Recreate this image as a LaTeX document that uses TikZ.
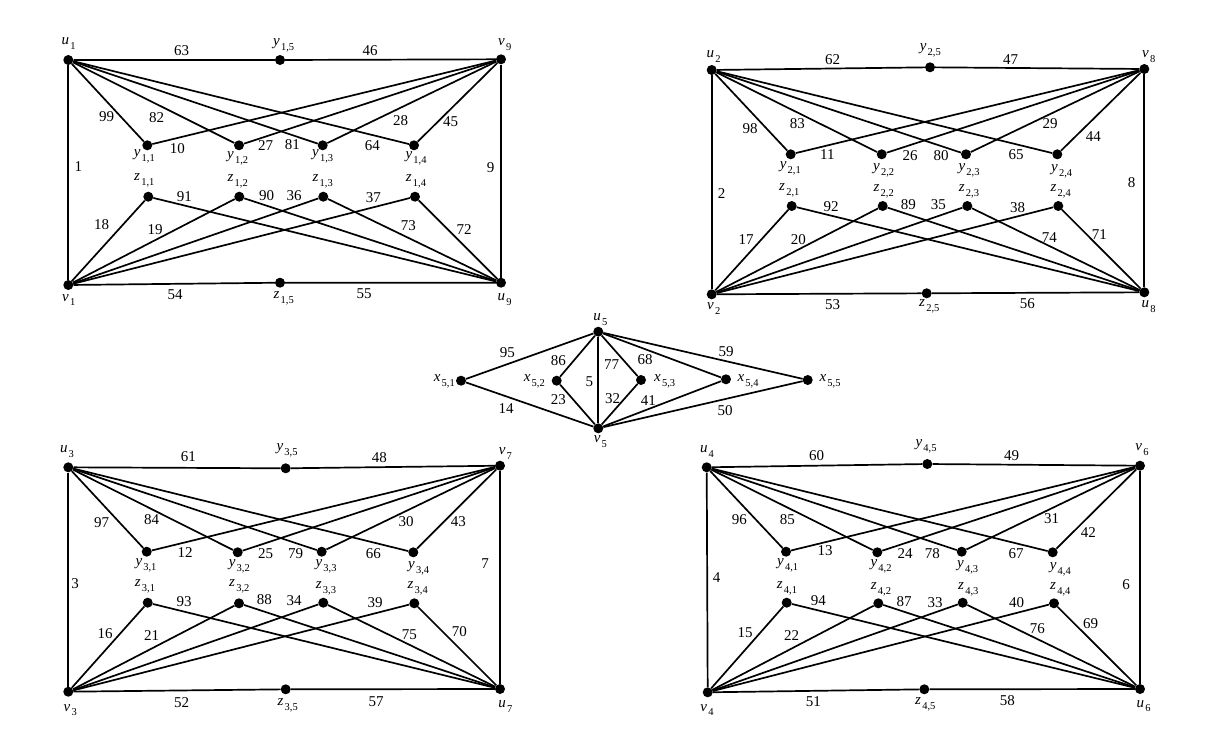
\documentclass[tikz,border=0pt]{standalone}
\usepackage{fontspec}
\setmainfont{Liberation Serif}
\newcommand\vlab[2]{\textit{#1}\kern1.2pt\raisebox{-4.8pt}{\fontsize{10.5}{11}\selectfont #2}}
\newcommand\nm[3]{\node[num] (n#3) at (#1,#2) {#3};}
\newcommand\vt[5]{\node[num] (#3) at (#1,#2) {\vlab{#4}{#5}};}
\newcommand\paneledges[1]{%
  \draw[edge] (TL#1) -- (Y#1-5) -- (TR#1);
  \draw[edge] (TL#1) -- (BL#1);
  \draw[edge] (TR#1) -- (BR#1);
  \draw[edge] (BL#1) -- (Z#1-5) -- (BR#1);
  \foreach \j in {1,...,4} {
    \draw[edge] (TL#1) -- (Y#1-\j);
    \draw[edge] (TR#1) -- (Y#1-\j);
    \draw[edge] (BL#1) -- (Z#1-\j);
    \draw[edge] (BR#1) -- (Z#1-\j);
  }%
}
\begin{document}
\begin{tikzpicture}[x=1pt,y=-1pt,
  dot/.style={circle,fill=black,inner sep=0pt,minimum size=10pt},
  edge/.style={line width=1.7pt,black},
  num/.style={font=\fontsize{15}{18}\selectfont,inner sep=0pt}]
\useasboundingbox (0,0) rectangle (1217,742);
\fill[white] (0,0) rectangle (1217,742);

% ---------- panel 1 ----------
\node[dot] (TL1) at (68.3,60) {};
\node[dot] (TR1) at (501,59.3) {};
\node[dot] (BL1) at (68.3,285) {};
\node[dot] (BR1) at (501,282.7) {};
\node[dot] (Y1-5) at (280,60) {};
\node[dot] (Z1-5) at (280,282.7) {};
\node[dot] (Y1-1) at (147.3,145.3) {};
\node[dot] (Y1-2) at (239,145.3) {};
\node[dot] (Y1-3) at (322.7,145.3) {};
\node[dot] (Y1-4) at (414,145.3) {};
\node[dot] (Z1-1) at (148.3,196.7) {};
\node[dot] (Z1-2) at (239.3,196.7) {};
\node[dot] (Z1-3) at (323.3,196.7) {};
\node[dot] (Z1-4) at (415,196.7) {};
\paneledges{1}
\vt{68.7}{43.3}{a1}{u}{1}
\vt{504.7}{45}{a2}{v}{9}
\vt{283.7}{45}{a3}{y}{1,5}
\vt{68.7}{300}{a4}{v}{1}
\vt{283.7}{298.3}{a5}{z}{1,5}
\vt{504.7}{300}{a6}{u}{9}
\vt{144.3}{156.7}{a7}{y}{1,1}
\vt{237.7}{158.3}{a8}{y}{1,2}
\vt{322.7}{156.7}{a9}{y}{1,3}
\vt{416}{158.3}{a10}{y}{1,4}
\vt{144.3}{180}{a11}{z}{1,1}
\vt{237.7}{181.7}{a12}{z}{1,2}
\vt{322.7}{181.7}{a13}{z}{1,3}
\vt{416}{181.7}{a14}{z}{1,4}
\nm{181.7}{50.7}{63}
\nm{370}{50.7}{46}
\nm{78.3}{166.7}{1}
\nm{490.7}{167.7}{9}
\nm{106.7}{116.7}{99}
\nm{156.7}{117.7}{82}
\nm{400.7}{121}{28}
\nm{450.7}{121.7}{45}
\nm{177.3}{148.7}{10}
\nm{265.7}{145.7}{27}
\nm{292.3}{145}{81}
\nm{372.3}{145.7}{64}
\nm{184.3}{196.7}{91}
\nm{266.7}{196}{90}
\nm{294}{196}{36}
\nm{373.3}{197.3}{37}
\nm{101.7}{225}{18}
\nm{155}{229.3}{19}
\nm{408.3}{226}{73}
\nm{464}{230}{72}
\nm{175}{295}{54}
\nm{364}{294}{55}

% ---------- panel 2 ----------
\node[dot] (TL2) at (711.7,70) {};
\node[dot] (TR2) at (1144.3,69) {};
\node[dot] (BL2) at (711.7,294.3) {};
\node[dot] (BR2) at (1144.3,292.3) {};
\node[dot] (Y2-5) at (930,67.3) {};
\node[dot] (Z2-5) at (926.7,293.3) {};
\node[dot] (Y2-1) at (790.7,154.3) {};
\node[dot] (Y2-2) at (881.7,154.3) {};
\node[dot] (Y2-3) at (966,154.3) {};
\node[dot] (Y2-4) at (1057.3,154.3) {};
\node[dot] (Z2-1) at (791.7,206) {};
\node[dot] (Z2-2) at (882.7,206) {};
\node[dot] (Z2-3) at (967.3,206) {};
\node[dot] (Z2-4) at (1058.3,206) {};
\paneledges{2}
\vt{713.7}{56.7}{b1}{u}{2}
\vt{1148.7}{56.7}{b2}{v}{8}
\vt{930.3}{50}{b3}{y}{2,5}
\vt{713.7}{308.3}{b4}{v}{2}
\vt{929.3}{306}{b5}{z}{2,5}
\vt{1148.7}{306.7}{b6}{u}{8}
\vt{790.3}{168.3}{b7}{y}{2,1}
\vt{883.7}{170}{b8}{y}{2,2}
\vt{969}{170}{b9}{y}{2,3}
\vt{1061.7}{171.7}{b10}{y}{2,4}
\vt{789.3}{190}{b11}{z}{2,1}
\vt{883.7}{191.7}{b12}{z}{2,2}
\vt{969}{191.7}{b13}{z}{2,3}
\vt{1060.7}{191.7}{b14}{z}{2,4}
\nm{832.7}{60}{62}
\nm{1010.7}{59.3}{47}
\nm{721.7}{193.3}{2}
\nm{1131.7}{182.7}{8}
\nm{750}{128.3}{98}
\nm{797.3}{124}{83}
\nm{1050}{124}{29}
\nm{1093.3}{136.7}{44}
\nm{827.3}{155}{11}
\nm{910}{156}{26}
\nm{941}{156}{80}
\nm{1016}{155}{65}
\nm{831}{206.7}{92}
\nm{908.3}{205}{89}
\nm{938.3}{205}{35}
\nm{1017.7}{207.3}{38}
\nm{746}{240}{17}
\nm{798.3}{239.3}{20}
\nm{1049.3}{237.3}{74}
\nm{1099.3}{234.3}{71}
\nm{832.7}{305}{53}
\nm{1027.3}{303.3}{56}

% ---------- panel 3 ----------
\node[dot] (TL3) at (68.3,467.3) {};
\node[dot] (TR3) at (500,465.7) {};
\node[dot] (BL3) at (68.3,691.7) {};
\node[dot] (BR3) at (500,689) {};
\node[dot] (Y3-5) at (285.7,468.3) {};
\node[dot] (Z3-5) at (285.7,689.3) {};
\node[dot] (Y3-1) at (146.7,551.7) {};
\node[dot] (Y3-2) at (237.7,552.3) {};
\node[dot] (Y3-3) at (321.7,551.7) {};
\node[dot] (Y3-4) at (413.3,552.3) {};
\node[dot] (Z3-1) at (147.7,602.7) {};
\node[dot] (Z3-2) at (239,603.3) {};
\node[dot] (Z3-3) at (323.3,602.7) {};
\node[dot] (Z3-4) at (414.3,603.3) {};
\paneledges{3}
\vt{67}{451.7}{c1}{u}{3}
\vt{505.3}{453.3}{c2}{v}{7}
\vt{287}{450}{c3}{y}{3,5}
\vt{70.3}{710}{c4}{v}{3}
\vt{287.7}{705}{c5}{z}{3,5}
\vt{505.3}{706.7}{c6}{u}{7}
\vt{146}{565}{c7}{y}{3,1}
\vt{239.3}{566}{c8}{y}{3,2}
\vt{326}{566.7}{c9}{y}{3,3}
\vt{418.7}{568.3}{c10}{y}{3,4}
\vt{145}{586.7}{c11}{z}{3,1}
\vt{239.3}{586.7}{c12}{z}{3,2}
\vt{326}{588.3}{c13}{z}{3,3}
\vt{417.7}{588.3}{c14}{z}{3,4}
\nm{188.3}{456.7}{61}
\nm{379.3}{457.3}{48}
\nm{75}{584}{3}
\nm{485}{564}{7}
\nm{101.7}{522.3}{97}
\nm{151.7}{520}{84}
\nm{406}{521.7}{30}
\nm{458.3}{521.7}{43}
\nm{185}{552.3}{12}
\nm{265.7}{553.3}{25}
\nm{295.7}{554}{79}
\nm{373.3}{553.3}{66}
\nm{184}{601.7}{93}
\nm{264.3}{600}{88}
\nm{294}{600.7}{34}
\nm{375}{602.7}{39}
\nm{105}{634}{16}
\nm{151.7}{636}{21}
\nm{409.3}{635}{75}
\nm{459.3}{631.7}{70}
\nm{181.7}{702.7}{52}
\nm{376}{701.7}{57}

% ---------- panel 4 ----------
\node[dot] (TL4) at (706.7,467.3) {};
\node[dot] (TR4) at (1140,465.7) {};
\node[dot] (BL4) at (707.7,692.3) {};
\node[dot] (BR4) at (1140,689) {};
\node[dot] (Y4-5) at (927.3,464) {};
\node[dot] (Z4-5) at (924.3,689.3) {};
\node[dot] (Y4-1) at (786,551.7) {};
\node[dot] (Y4-2) at (877.3,552.3) {};
\node[dot] (Y4-3) at (961.7,551.7) {};
\node[dot] (Y4-4) at (1052.7,552.3) {};
\node[dot] (Z4-1) at (786.7,602.7) {};
\node[dot] (Z4-2) at (878.3,603.3) {};
\node[dot] (Z4-3) at (962.7,602.7) {};
\node[dot] (Z4-4) at (1054,603.3) {};
\paneledges{4}
\vt{707}{451.7}{d1}{u}{4}
\vt{1142}{449.3}{d2}{v}{6}
\vt{926}{446}{d3}{y}{4,5}
\vt{707}{710}{d4}{v}{4}
\vt{925.3}{704}{d5}{z}{4,5}
\vt{1143.7}{706}{d6}{u}{6}
\vt{787.7}{565}{d7}{y}{4,1}
\vt{881}{566.7}{d8}{y}{4,2}
\vt{967.7}{567.3}{d9}{y}{4,3}
\vt{1060.3}{569.3}{d10}{y}{4,4}
\vt{787}{588.3}{d11}{z}{4,1}
\vt{881}{589.3}{d12}{z}{4,2}
\vt{968.3}{589.3}{d13}{z}{4,3}
\vt{1060.3}{589.3}{d14}{z}{4,4}
\nm{816.7}{456}{60}
\nm{1011.7}{456}{49}
\nm{716.7}{577.3}{4}
\nm{1126}{585}{6}
\nm{739.3}{520}{96}
\nm{787.3}{519.3}{85}
\nm{1051.7}{518.3}{31}
\nm{1088.3}{532.3}{42}
\nm{825}{550.7}{13}
\nm{905}{554}{24}
\nm{932.3}{554}{78}
\nm{1016}{554}{67}
\nm{818.3}{600.7}{94}
\nm{904}{601.7}{87}
\nm{935}{602.7}{33}
\nm{1016.7}{602.7}{40}
\nm{745}{632.3}{15}
\nm{791.7}{636}{22}
\nm{1037.3}{628.3}{76}
\nm{1090.7}{623.3}{69}
\nm{813.3}{701.7}{51}
\nm{1007.3}{700.7}{58}

% ---------- centre ----------
\node[dot] (U5) at (598.3,331.7) {};
\node[dot] (V5) at (598.3,428.3) {};
\node[dot] (X1) at (461,380.7) {};
\node[dot] (X2) at (556.7,380.7) {};
\node[dot] (X3) at (641,380) {};
\node[dot] (X4) at (726,379.3) {};
\node[dot] (X5) at (807.7,380) {};
\draw[edge] (U5) -- (V5);
\foreach \k in {1,...,5} {
  \draw[edge] (U5) -- (X\k) -- (V5);
}
\vt{600.3}{320}{e1}{u}{5}
\vt{600.3}{441.7}{e2}{v}{5}
\vt{444.3}{381.5}{e3}{x}{5,1}
\vt{534.3}{381.5}{e4}{x}{5,2}
\vt{664.7}{381.5}{e5}{x}{5,3}
\vt{748}{381}{e6}{x}{5,4}
\vt{830}{381.5}{e7}{x}{5,5}
\nm{507.3}{352.3}{95}
\nm{558.3}{360.7}{86}
\nm{611.7}{365}{77}
\nm{645}{360}{68}
\nm{726}{351.7}{59}
\nm{589.3}{381.7}{5}
\nm{558.3}{400}{23}
\nm{612.7}{398.3}{32}
\nm{648.3}{400.7}{41}
\nm{506}{409}{14}
\nm{725}{410.7}{50}
\end{tikzpicture}
\end{document}
